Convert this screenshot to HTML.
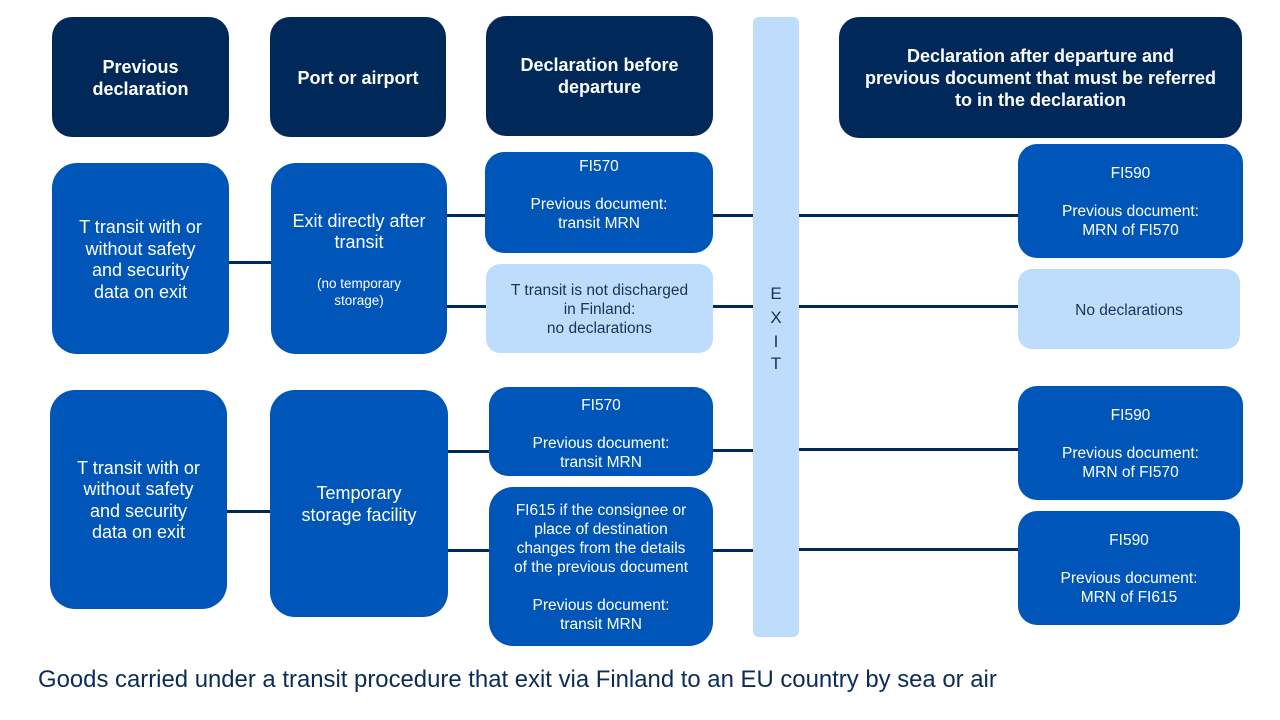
<!DOCTYPE html>
<html>
<head>
<meta charset="utf-8">
<style>
  html, body { margin:0; padding:0; }
  body { width:1280px; height:720px; position:relative; background:#ffffff; overflow:hidden;
         font-family:"Liberation Sans", Arial, sans-serif; }
  .b { position:absolute; display:flex; flex-direction:column; align-items:center; justify-content:center;
       text-align:center; box-sizing:border-box; }
  .hd { background:#00295a; color:#fff; font-weight:bold; font-size:18px; line-height:22px; border-radius:20px; }
  .bl { background:#0056b8; color:#fff; font-size:18px; line-height:21.5px; border-radius:25px; }
  .sm { background:#0056b8; color:#fff; font-size:15.5px; line-height:19px; border-radius:19px; }
  .lt { background:#bedcfc; color:#1a3258; font-size:15.5px; line-height:19px; border-radius:14px; }
  .ln { position:absolute; background:#00295a; height:3px; }
  .exit { position:absolute; left:753px; top:17px; width:46px; height:620px; background:#bedcfc; border-radius:6px; }
  .exit span { position:absolute; left:0; width:46px; text-align:center; font-size:17px; color:#1a3258; }
  .cap { position:absolute; left:38px; top:666px; font-size:23.9px; color:#0c2c58; white-space:nowrap; }
</style>
</head>
<body>

<!-- connector lines -->
<div class="ln" style="left:229px; top:261px; width:43px;"></div>
<div class="ln" style="left:446px; top:214px; width:40px;"></div>
<div class="ln" style="left:712px; top:214px; width:42px;"></div>
<div class="ln" style="left:798px; top:214px; width:221px;"></div>
<div class="ln" style="left:446px; top:305px; width:41px;"></div>
<div class="ln" style="left:712px; top:305px; width:42px;"></div>
<div class="ln" style="left:798px; top:305px; width:221px;"></div>

<div class="ln" style="left:226px; top:510px; width:45px;"></div>
<div class="ln" style="left:446px; top:450px; width:44px;"></div>
<div class="ln" style="left:712px; top:449px; width:42px;"></div>
<div class="ln" style="left:798px; top:448px; width:221px;"></div>
<div class="ln" style="left:446px; top:549px; width:44px;"></div>
<div class="ln" style="left:712px; top:549px; width:42px;"></div>
<div class="ln" style="left:798px; top:548px; width:221px;"></div>

<!-- headers -->
<div class="b hd" style="left:52px; top:17px; width:177px; height:120px; padding-top:2px;">Previous<br>declaration</div>
<div class="b hd" style="left:270px; top:17px; width:176px; height:120px; padding-top:2px;">Port or airport</div>
<div class="b hd" style="left:486px; top:16px; width:227px; height:120px;">Declaration before<br>departure</div>
<div class="b hd" style="left:839px; top:17px; width:403px; height:121px;">Declaration after departure and<br>previous document that must be referred<br>to in the declaration</div>

<!-- EXIT bar -->
<div class="exit">
  <span style="top:267px;">E</span>
  <span style="top:291px;">X</span>
  <span style="top:315px;">I</span>
  <span style="top:337px;">T</span>
</div>

<!-- row 1 -->
<div class="b bl" style="left:52px; top:163px; width:177px; height:191px; padding-top:3px;">T transit with or<br>without safety<br>and security<br>data on exit</div>
<div class="b bl" style="left:271px; top:163px; width:176px; height:191px;">
  <div style="margin-top:2px;">Exit directly after<br>transit</div>
  <div style="font-size:13.5px; line-height:17px; margin-top:21px;">(no temporary<br>storage)</div>
</div>
<div class="b sm" style="left:485px; top:152px; width:228px; height:101px; justify-content:flex-start; padding-top:5px;">FI570<br><br>Previous document:<br>transit MRN</div>
<div class="b lt" style="left:486px; top:264px; width:227px; height:89px; padding-top:1px;">T transit is not discharged<br>in Finland:<br>no declarations</div>
<div class="b sm" style="left:1018px; top:144px; width:225px; height:114px; padding-top:2px;">FI590<br><br>Previous document:<br>MRN of FI570</div>
<div class="b lt" style="left:1018px; top:269px; width:222px; height:80px; padding-top:2px;">No declarations</div>

<!-- row 2 -->
<div class="b bl" style="left:50px; top:390px; width:177px; height:219px; padding-top:2px;">T transit with or<br>without safety<br>and security<br>data on exit</div>
<div class="b bl" style="left:270px; top:390px; width:178px; height:227px; padding-top:2px;">Temporary<br>storage facility</div>
<div class="b sm" style="left:489px; top:387px; width:224px; height:89px;"><div style="margin-top:4px;">FI570<br><br>Previous document:<br>transit MRN</div></div>
<div class="b sm" style="left:489px; top:487px; width:224px; height:159px; border-radius:24px; padding-top:1px;">FI615 if the consignee or<br>place of destination<br>changes from the details<br>of the previous document<br><br>Previous document:<br>transit MRN</div>
<div class="b sm" style="left:1018px; top:386px; width:225px; height:114px; padding-top:1px;">FI590<br><br>Previous document:<br>MRN of FI570</div>
<div class="b sm" style="left:1018px; top:511px; width:222px; height:114px; padding-top:2px;">FI590<br><br>Previous document:<br>MRN of FI615</div>

<div class="cap">Goods carried under a transit procedure that exit via Finland to an EU country by sea or air</div>

</body>
</html>
